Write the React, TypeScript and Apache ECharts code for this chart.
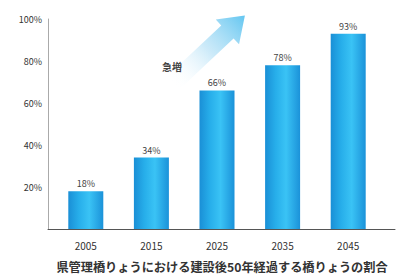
import React, { useEffect, useRef } from "react";
import * as echarts from "echarts";

const categories = ["2005", "2015", "2025", "2035", "2045"];
const shares = [18, 34, 66, 78, 93];
const yTicks = [0, 20, 40, 60, 80, 100];
const footnote = "県管理橋りょうにおける建設後50年経過する橋りょうの割合";
const arrowLabel = "急増";

export default function App() {
  const ref = useRef<HTMLDivElement>(null);
  useEffect(() => {
    if (!ref.current) return;
    const chart = echarts.init(ref.current, null, { renderer: "svg" });
    const font = "'Noto Sans CJK JP', 'Noto Sans', sans-serif";
    const barColor = new echarts.graphic.LinearGradient(0, 0, 1, 0, [
      { offset: 0, color: "#1a8fd6" },
      { offset: 0.3, color: "#27aeea" },
      { offset: 0.6, color: "#3ac3f5" },
      { offset: 1, color: "#1b92d9" },
    ]);
    chart.setOption({
      animation: false,
      backgroundColor: "#ffffff",
      grid: [
        { left: 48, right: 3, top: 19, bottom: 48 },
        { left: 53, right: 17, top: 19, bottom: 48 },
      ],
      xAxis: [
        {
          type: "value",
          gridIndex: 0,
          min: 0,
          max: 1,
          axisLine: { show: true, lineStyle: { color: "#555", width: 1 } },
          axisTick: { show: false },
          axisLabel: { show: false },
          splitLine: { show: false },
        },
        {
          type: "category",
          gridIndex: 1,
          data: categories,
          axisLine: { show: false },
          axisTick: { show: false },
          axisLabel: {
            color: "#333",
            fontSize: 10,
            margin: 11,
            fontFamily: font,
          },
        },
      ],
      yAxis: [
        {
          type: "value",
          gridIndex: 0,
          min: 0,
          max: 100,
          interval: 20,
          axisLine: { show: true, lineStyle: { color: "#aaa" } },
          axisTick: { show: false },
          splitLine: { show: false },
          axisLabel: {
            color: "#333",
            fontSize: 9,
            margin: 6,
            fontFamily: font,
            formatter: (v: number) => (v === 0 || !yTicks.includes(v) ? "" : v + "%"),
          },
        },
        {
          type: "value",
          gridIndex: 1,
          min: 0,
          max: 100,
          show: false,
        },
      ],
      series: [
        {
          type: "bar",
          xAxisIndex: 1,
          yAxisIndex: 1,
          data: shares,
          barWidth: 35,
          itemStyle: { color: barColor },
          label: {
            show: true,
            position: "top",
            distance: 3,
            color: "#444",
            fontSize: 9,
            fontFamily: font,
            formatter: (p: any) => p.value + "%",
          },
        },
      ],
      graphic: [
        {
          type: "polygon",
          x: 172,
          y: 84,
          rotation: Math.PI * 0.24,
          shape: {
            points: [
              [0, -9],
              [76, -9],
              [76, -17],
              [100, 0],
              [76, 17],
              [76, 9],
              [0, 9],
            ],
          },
          style: {
            fill: new echarts.graphic.LinearGradient(0, 0, 1, 0, [
              { offset: 0, color: "rgba(255,255,255,0)" },
              { offset: 0.5, color: "rgba(170,220,245,0.6)" },
              { offset: 1, color: "rgba(90,195,240,0.95)" },
            ]),
          },
          z: 0,
        },
        {
          type: "text",
          x: 172,
          y: 66,
          style: {
            text: arrowLabel,
            fill: "#444",
            fontSize: 10,
            fontWeight: "bold",
            fontFamily: font,
            align: "center",
            verticalAlign: "middle",
          },
        },
        {
          type: "text",
          x: 222,
          y: 267,
          style: {
            text: footnote,
            fill: "#333",
            fontSize: 12.2,
            fontWeight: "bold",
            fontFamily: font,
            align: "center",
            verticalAlign: "middle",
          },
        },
      ],
    });
    return () => chart.dispose();
  }, []);
  return <div ref={ref} style={{ width: 398, height: 277, position: "absolute", left: 0, top: 0 }} />;
}
